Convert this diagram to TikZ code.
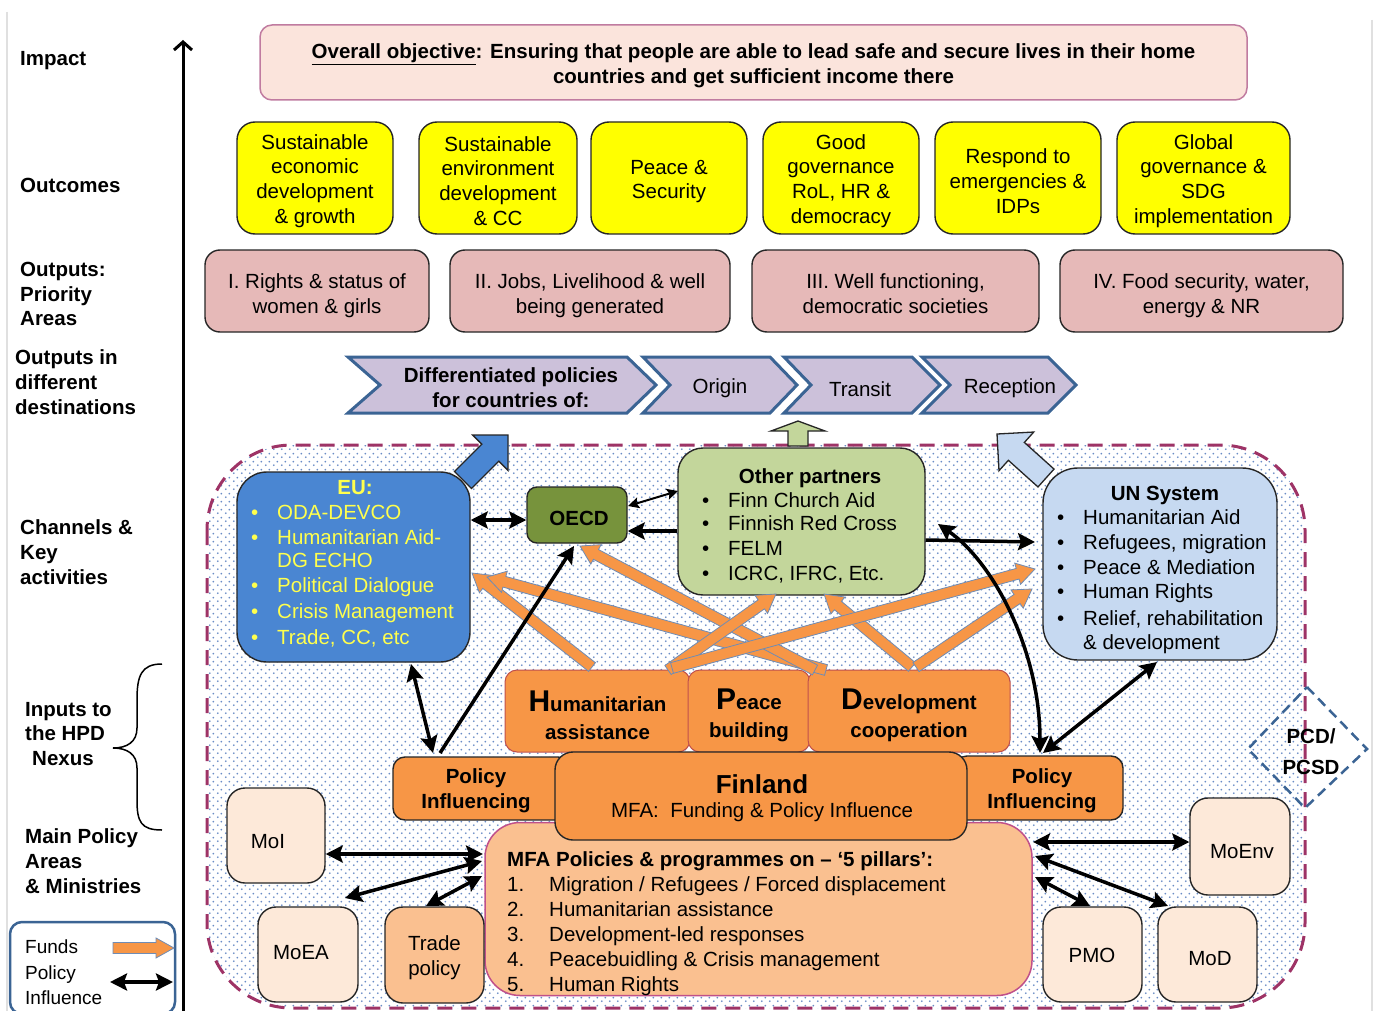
\documentclass[tikz,border=0pt]{standalone}
\usepackage{fontspec}
\setmainfont{Liberation Sans}
\usetikzlibrary{arrows.meta,patterns.meta}
\definecolor{objfill}{HTML}{FBE4DC}
\definecolor{objdraw}{HTML}{C07BA0}
\definecolor{yel}{HTML}{FFFF00}
\definecolor{pinkbox}{HTML}{E6B9B8}
\definecolor{chevfill}{HTML}{CCC1DA}
\definecolor{chevdraw}{HTML}{3B6494}
\definecolor{regdash}{HTML}{9E3366}
\definecolor{dotc}{HTML}{6A8CC6}
\definecolor{eublue}{HTML}{4A86D2}
\definecolor{euyel}{HTML}{FFFF4D}
\definecolor{oecdg}{HTML}{77933C}
\definecolor{opg}{HTML}{C3D69B}
\definecolor{unb}{HTML}{C6D9F1}
\definecolor{orng}{HTML}{F79646}
\definecolor{hpdline}{HTML}{C0504D}
\definecolor{mfafill}{HTML}{FAC090}
\definecolor{mfadraw}{HTML}{C0508A}
\definecolor{minfill}{HTML}{FDE9D9}
\definecolor{fundline}{HTML}{6F8CB5}
\definecolor{dk}{HTML}{262626}
\newcommand\fsz[2]{\fontsize{#1}{#2}\selectfont}
% block arrow: style, x1, y1, x2, y2, body half width, head half width, head length
\newcommand\blockarrow[8]{%
  \pgfmathsetmacro\baang{atan2(#3-#5,#4-#2)}%
  \pgfmathsetmacro\balen{veclen(#4-#2,#5-#3)}%
  \pgfmathsetmacro\bahb{\balen-#8}%
  \draw[#1,shift={(#2,#3)},rotate=\baang] (0,-#6) -- (\bahb,-#6) -- (\bahb,-#7) -- (\balen,0) -- (\bahb,#7) -- (\bahb,#6) -- (0,#6) -- cycle;}
\tikzdeclarepattern{
  name=bdots,
  type=uncolored,
  bottom left={(0pt,0pt)},
  top right={(8pt,8pt)},
  tile size={(8pt,8pt)},
  code={\fill (2pt,2pt) circle (1.1pt); \fill (6pt,6pt) circle (1.1pt);}
}
\begin{document}
\begin{tikzpicture}[x=1pt,y=-1pt,font=\fsz{20.5}{24.7},
  rbox/.style={draw=dk, line width=1.4pt, rounded corners=#1, inner sep=0pt, align=center},
  rbox/.default=16pt,
  tcent/.style={align=center, inner sep=0pt},
  lbl/.style={font=\fsz{20.5}{24.7}\bfseries, align=left, anchor=west, inner sep=0pt},
  pol/.style={line width=3.5pt, arrows={Stealth[length=17pt,width=17pt,inset=3pt]-Stealth[length=17pt,width=17pt,inset=3pt]}},
  pol1/.style={line width=3.5pt, arrows={-Stealth[length=17pt,width=17pt,inset=3pt]}},
  thinpol/.style={line width=2pt, arrows={Stealth[length=11pt,width=11pt,inset=2pt]-Stealth[length=11pt,width=11pt,inset=2pt]}},
  fund/.style={draw=fundline, line width=0.8pt, fill=orng, line join=miter},
  chev/.style={fill=chevfill, draw=chevdraw, line width=3pt, line join=miter},
  tx/.style={inner sep=0pt, anchor=base west},
  txc/.style={inner sep=0pt, anchor=base},
  bld/.style={font=\fsz{20.5}{24.7}\bfseries}
]
\useasboundingbox (0,0) rectangle (1376,1011);
\clip (0,0) rectangle (1376,1011);
\fill[white] (0,0) rectangle (1376,1011);
\draw[black!12, line width=1.5pt] (7,12) -- (7,1011);
\draw[black!12, line width=1.5pt] (1372,20) -- (1372,1011);

% ---------------- left labels ----------------
\node[lbl] (l-imp) at (20,61) {Impact};
\node[lbl] (l-out) at (20,185) {Outcomes};
\node[lbl] (l-opa) at (20,294) {Outputs:\\Priority\\Areas};
\node[lbl] (l-oid) at (15,382) {Outputs in\\different\\destinations};
\node[lbl] (l-ch) at (20,552) {Channels \&\\Key\\activities};
\node[lbl] (l-inp) at (25,734) {Inputs to\\the HPD\\\hspace*{7pt}Nexus};
\node[lbl] (l-main) at (25,861) {Main Policy\\Areas\\\& Ministries};

\coordinate (axb) at (183,1011);
\coordinate (axt) at (183,40);
\draw[line width=3pt, -{Straight Barb[length=8pt,width=18pt]}] (axb) -- (axt);

% brace
\draw[line width=1.5pt] (162,664) .. controls (141,664) and (137,676) .. (137,700) -- (137,728)
  .. controls (137,742) and (127,748) .. (113,748)
  .. controls (127,748) and (137,754) .. (137,768) -- (137,800)
  .. controls (137,822) and (141,830) .. (162,830);

% legend
\node[rbox=12pt, draw=chevdraw, line width=2.5pt, minimum width=165pt, minimum height=92pt] (leg) at (92.5,968) {};
\node[tx, font=\fsz{19}{23}] (lg1) at (25,953) {Funds};
\node[tx, font=\fsz{19}{23}] (lg2) at (25,979) {Policy};
\node[tx, font=\fsz{19}{23}] (lg3) at (25,1004) {Influence};
\blockarrow{fund}{113}{948}{174}{948}{5.5}{10}{18}
\coordinate (lgA) at (110,982);
\coordinate (lgB) at (173,982);
\draw[pol] (lgA) -- (lgB);

% ---------------- impact ----------------
\node[rbox=12pt, draw=objdraw, fill=objfill, line width=1.5pt, minimum width=987pt, minimum height=75pt] (obj) at (753.5,62.5) {};
\node[font=\fsz{20.5}{25}\bfseries, tcent] (objtxt) at (753.5,65.5)
  {\underline{Overall objective}: Ensuring that people are able to lead safe and secure lives in their home\\countries and get sufficient income there};

% ---------------- outcomes ----------------
\node[rbox=18pt, fill=yel, minimum width=156pt, minimum height=112pt] (oc1) at (315,178) {};
\node[tcent] (oc1-t) at ([yshift=-3pt]oc1.center) {Sustainable\\economic\\development\\\& growth};
\node[rbox=18pt, fill=yel, minimum width=158pt, minimum height=112pt] (oc2) at (498,178) {};
\node[tcent] (oc2-t) at ([yshift=-3pt]oc2.center) {Sustainable\\environment\\development\\\& CC};
\node[rbox=18pt, fill=yel, minimum width=156pt, minimum height=112pt] (oc3) at (669,178) {};
\node[tcent] (oc3-t) at ([yshift=-3.5pt]oc3.center) {Peace \&\\Security};
\node[rbox=18pt, fill=yel, minimum width=156pt, minimum height=112pt] (oc4) at (841,178) {};
\node[tcent] (oc4-t) at ([yshift=-3pt]oc4.center) {Good\\governance\\RoL, HR \&\\democracy};
\node[rbox=18pt, fill=yel, minimum width=166pt, minimum height=112pt] (oc5) at (1018,178) {};
\node[tcent] (oc5-t) at ([yshift=-3pt]oc5.center) {Respond to\\emergencies \&\\IDPs};
\node[rbox=18pt, fill=yel, minimum width=173pt, minimum height=112pt] (oc6) at (1203.5,178) {};
\node[tcent] (oc6-t) at ([yshift=-3pt]oc6.center) {Global\\governance \&\\SDG\\implementation};

% ---------------- outputs ----------------
\node[rbox=15pt, fill=pinkbox, minimum width=224pt, minimum height=82pt] (pa1) at (317,291) {};
\node[tcent] (pa1-t) at ([yshift=-4.5pt]pa1.center) {I. Rights \& status of\\women \& girls};
\node[rbox=15pt, fill=pinkbox, minimum width=280pt, minimum height=82pt] (pa2) at (590,291) {};
\node[tcent] (pa2-t) at ([yshift=-4.5pt]pa2.center) {II. Jobs, Livelihood \& well\\being generated};
\node[rbox=15pt, fill=pinkbox, minimum width=287pt, minimum height=82pt] (pa3) at (895.5,291) {};
\node[tcent] (pa3-t) at ([yshift=-3pt]pa3.center) {III. Well functioning,\\democratic societies};
\node[rbox=15pt, fill=pinkbox, minimum width=283pt, minimum height=82pt] (pa4) at (1201.5,291) {};
\node[tcent] (pa4-t) at ([yshift=-4.5pt]pa4.center) {IV. Food security, water,\\energy \& NR};

% ---------------- chevrons ----------------
\draw[chev] (348,357) -- (627,357) -- (656,385) -- (627,413) -- (348,413) -- (380,385) -- cycle;
\node[bld, tcent] (ch1) at (511,388) {Differentiated policies\\for countries of:};
\draw[chev] (643,357) -- (770,357) -- (797,385) -- (770,413) -- (643,413) -- (670,385) -- cycle;
\node[txc] (ch2) at (720,393) {Origin};
\draw[chev] (784,357) -- (912,357) -- (940,385) -- (912,413) -- (784,413) -- (811,385) -- cycle;
\node[txc] (ch3) at (860,396) {Transit};
\draw[chev] (922,357) -- (1048,357) -- (1076,385) -- (1048,413) -- (922,413) -- (950,385) -- cycle;
\node[txc] (ch4) at (1010,393) {Reception};

% ---------------- dotted region ----------------
\draw[draw=regdash, line width=3pt, dash pattern=on 15pt off 9pt, rounded corners=85pt, pattern=bdots, pattern color=dotc] (207,445) rectangle (1305,1008);

% channel arrows to destinations
\blockarrow{fill=eublue, draw=dk, line width=1.3pt, line join=miter}{463}{480}{508}{435}{12}{25}{25}
\blockarrow{fill=opg, draw=dk, line width=1.3pt, line join=miter}{798}{446}{798}{421}{10}{27}{10}
\blockarrow{fill=unb, draw=dk, line width=1.3pt, line join=miter}{1046}{478}{997}{434}{12}{26}{26}

% ---------------- channels ----------------
\node[rbox=30pt, fill=eublue, minimum width=233pt, minimum height=190pt] (eu) at (353.5,567) {};
\node[txc, bld, text=euyel] (eut) at (355,494) {EU:};
\foreach \yy/\bb/\myt [count=\i] in {519/1/ODA-DEVCO, 544/1/Humanitarian Aid-, 567/0/DG ECHO, 592/1/Political Dialogue, 618/1/Crisis Management, 644/1/{Trade, CC, etc}} {
  \node[tx, text=euyel] (eu-\i) at (277,\yy) {\myt};
  \ifnum\bb=1 \node[tx, text=euyel] (eub-\i) at (251,\yy) {•};\fi
}
\node[rbox=10pt, fill=oecdg, minimum width=100pt, minimum height=56pt] (oecd) at (577,515) {};
\node[bld, tcent] (oecd-t) at ([yshift=-3pt,xshift=2pt]oecd.center) {OECD};
\node[rbox=25pt, fill=opg, minimum width=247pt, minimum height=147pt] (op) at (801.5,521.5) {};
\node[txc, bld] (opt) at (810,483) {Other partners};
\foreach \yy/\myt [count=\i] in {507/Finn Church Aid, 530/Finnish Red Cross, 555/FELM, 580/{ICRC, IFRC, Etc.}} {
  \node[tx] (op-\i) at (728,\yy) {\myt};
  \node[tx] (opb-\i) at (702,\yy) {•};
}
\node[rbox=35pt, fill=unb, minimum width=234pt, minimum height=192pt] (un) at (1160,564) {};
\node[txc, bld] (unt) at (1165,500) {UN System};
\foreach \yy/\bb/\myt [count=\i] in {524/1/Humanitarian Aid, 549/1/{Refugees, migration}, 574/1/Peace \& Mediation, 598/1/Human Rights, 625/1/{Relief, rehabilitation}, 649/0/\& development} {
  \node[tx] (un-\i) at (1083,\yy) {\myt};
  \ifnum\bb=1 \node[tx] (unb-\i) at (1057,\yy) {•};\fi
}

% ---------------- MFA and ministries ----------------
\node[rbox=35pt, draw=mfadraw, line width=1.5pt, fill=mfafill, minimum width=547pt, minimum height=173pt] (mfa) at (758.5,909) {};
\node[tx, bld] (mfat) at (507,866) {MFA Policies \& programmes on – ‘5 pillars’:};
\foreach \yy/\myt [count=\i] in {891/{Migration / Refugees / Forced displacement}, 916/Humanitarian assistance, 941/Development-led responses, 966/Peacebuidling \& Crisis management, 991/Human Rights} {
  \node[tx] (mfan-\i) at (507,\yy) {\i.};
  \node[tx] (mfa-\i) at (549,\yy) {\myt};
}

\node[rbox=12pt, draw=hpdline, line width=1pt, fill=orng, minimum width=185pt, minimum height=82pt] (hum) at (597.5,711) {};
\node[tcent, font=\fsz{20.5}{28}\bfseries] (hum-t) at ([yshift=-4pt]hum.center) {{\fsz{30}{28}H}umanitarian\\assistance};
\node[rbox=12pt, draw=hpdline, line width=1pt, fill=orng, minimum width=122pt, minimum height=82pt] (pea) at (749,711) {};
\node[tcent, font=\fsz{20.5}{28}\bfseries] (pea-t) at ([yshift=-4pt]pea.center) {{\fsz{30}{28}P}eace\\building};
\node[rbox=12pt, draw=hpdline, line width=1pt, fill=orng, minimum width=202pt, minimum height=82pt] (dev) at (909,711) {};
\node[tcent, font=\fsz{20.5}{28}\bfseries] (dev-t) at ([yshift=-4pt]dev.center) {{\fsz{30}{28}D}evelopment\\cooperation};

\node[rbox=12pt, fill=orng, minimum width=177pt, minimum height=63pt] (pil) at (481.5,788.5) {};
\node[bld, tcent] (pilt) at (476,791) {Policy\\Influencing};
\node[rbox=12pt, fill=orng, minimum width=168pt, minimum height=64pt] (pir) at (1039,788) {};
\node[bld, tcent] (pirt) at (1042,791) {Policy\\Influencing};
\node[rbox=18pt, fill=orng, minimum width=412pt, minimum height=88pt] (fin) at (761,796) {};
\node[txc, font=\fsz{26}{30}\bfseries] (fint) at (762,793) {Finland};
\node[txc] (fins) at (762,817) {MFA:\ \ Funding \& Policy Influence};

\node[rbox=18pt, fill=minfill, minimum width=98pt, minimum height=95pt] (moi) at (276,835.5) {};
\node[txc] (moi-t) at (268,848) {MoI};
\node[rbox=18pt, fill=minfill, minimum width=100pt, minimum height=95pt] (moea) at (308,954.5) {};
\node[txc] (moea-t) at (301,959) {MoEA};
\node[rbox=18pt, fill=mfafill, minimum width=99pt, minimum height=96pt] (trade) at (434.5,955) {};
\node[tcent] (trade-t) at ([yshift=-2.5pt]trade.center) {Trade\\policy};
\node[rbox=18pt, fill=minfill, minimum width=99pt, minimum height=95pt] (pmo) at (1092.5,954.5) {};
\node[txc] (pmo-t) at (1092,962) {PMO};
\node[rbox=18pt, fill=minfill, minimum width=99pt, minimum height=95pt] (mod) at (1207.5,954.5) {};
\node[txc] (mod-t) at (1210,965) {MoD};
\node[rbox=18pt, fill=minfill, minimum width=100pt, minimum height=97pt] (moenv) at (1240,846.5) {};
\node[txc] (moenv-t) at (1242,858) {MoEnv};

% PCD diamond
\draw[draw=chevdraw, line width=2.5pt, dash pattern=on 10pt off 6pt] (1307,687) -- (1367,749) -- (1305,808) -- (1248,749) -- cycle;
\node[tcent, font=\fsz{20.5}{31}\bfseries] (pcd) at (1311,752) {PCD/\\PCSD};

% ---------------- funds (orange) ----------------
\blockarrow{fund}{592}{667}{472}{573}{5.5}{11}{18}
\blockarrow{fund}{826}{670}{487}{577}{5.5}{11}{18}
\blockarrow{fund}{815}{670}{580}{546}{5.5}{11}{18}
\blockarrow{fund}{668}{670}{776}{594}{5.5}{11}{18}
\blockarrow{fund}{912}{667}{824}{594}{5.5}{11}{18}
\blockarrow{fund}{672}{668}{1035}{569}{5.5}{11}{18}
\blockarrow{fund}{916}{667}{1032}{589}{5.5}{11}{18}

% ---------------- policy influence (black) ----------------
\draw[pol] (eu.east |- 0,520) -- (oecd.west |- 0,520);
\draw[thinpol] (628,506) -- (678,491);
\draw[pol1] (op.west |- 0,531) -- (oecd.east |- 0,531);
\draw[pol1] (op.east |- 0,540) -- (1035,542);
\draw[pol] (938,524) .. controls (993,562) and (1040,650) .. (1040,753);
\draw[pol] (1157,662) -- (1043,753);
\draw[pol] (411,664) -- (433,753);
\draw[pol1] (440,753) -- (574,546);
\draw[pol] (moi.east |- 0,854) -- (483,854);
\draw[pol] (345,898) -- (482,861);
\draw[pol] (426,906) -- (482,876);
\draw[pol] (1033,842) -- (moenv.west |- 0,842);
\draw[pol] (1035,856) -- (1168,906);
\draw[pol] (1035,877) -- (1090,906);
\end{tikzpicture}
\end{document}
